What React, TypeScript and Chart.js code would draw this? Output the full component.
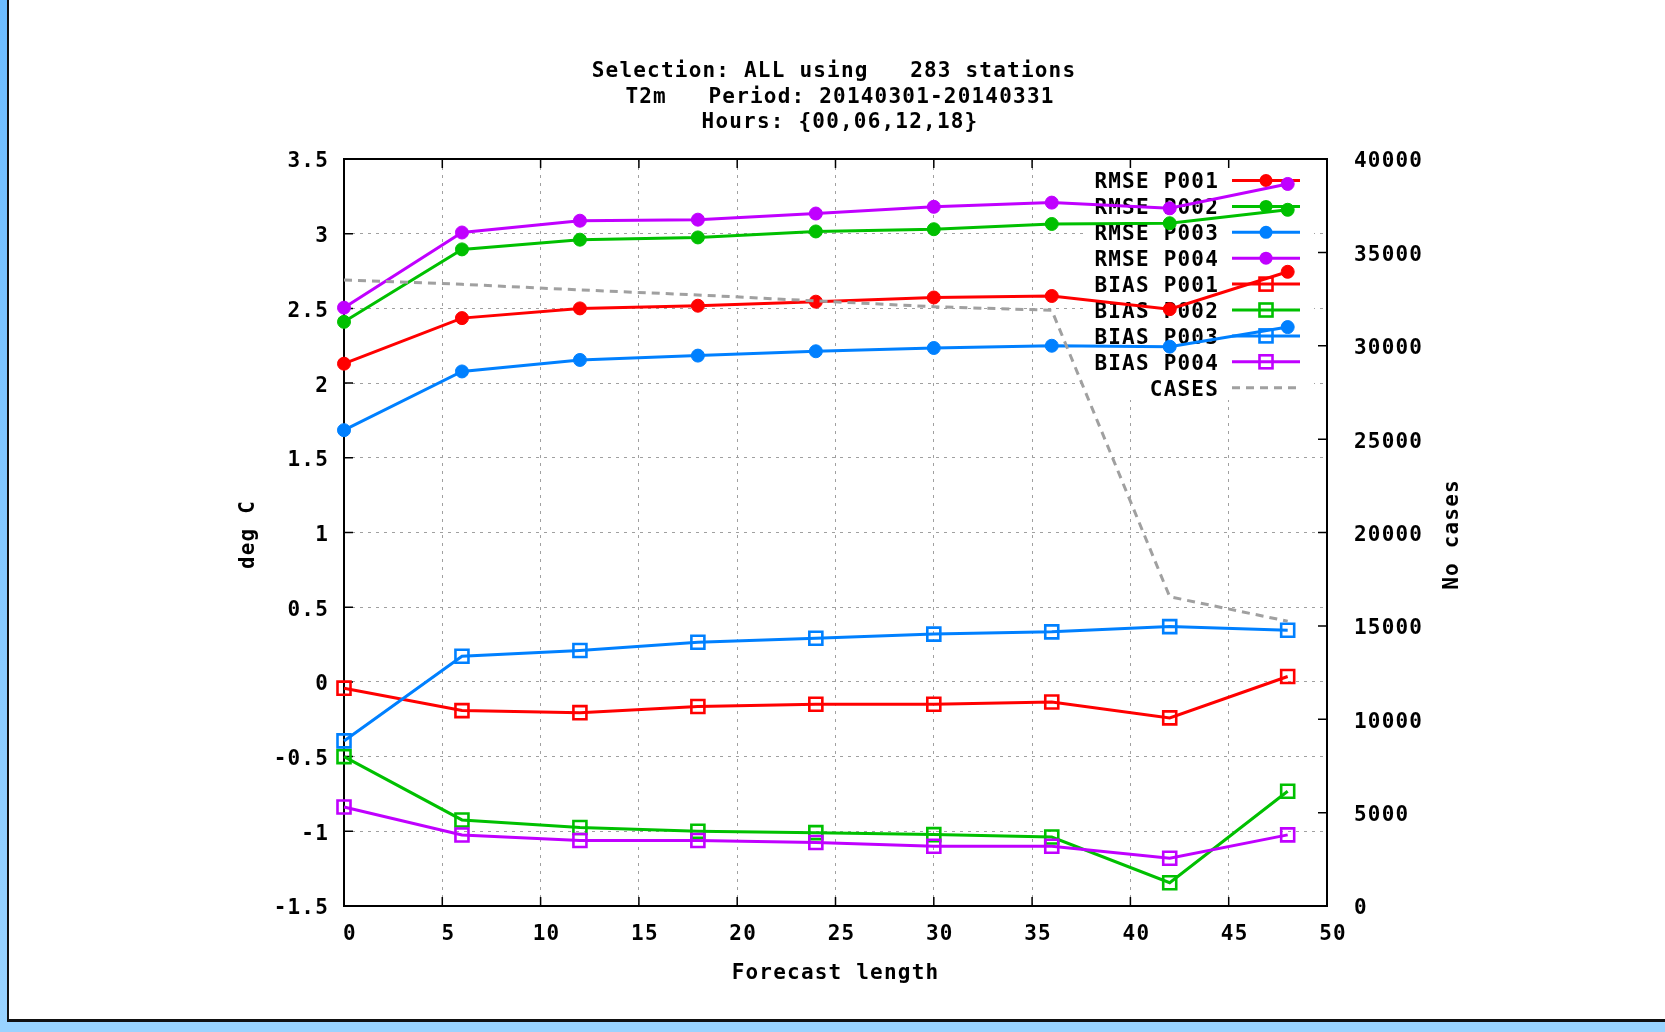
import React, { useEffect, useRef } from 'react';
import { Chart, registerables } from 'chart.js';

Chart.register(...registerables);

const W = 1665;
const H = 1032;

// ---------- data ----------
const forecastLength = [0, 6, 12, 18, 24, 30, 36, 42, 48];

const rmseP001 = [2.13, 2.435, 2.50, 2.518, 2.545, 2.573, 2.583, 2.495, 2.745];
const rmseP002 = [2.41, 2.895, 2.96, 2.975, 3.015, 3.03, 3.065, 3.07, 3.16];
const rmseP003 = [1.685, 2.078, 2.155, 2.184, 2.213, 2.235, 2.25, 2.244, 2.375];
const rmseP004 = [2.505, 3.008, 3.087, 3.094, 3.135, 3.18, 3.208, 3.17, 3.333];

const biasP001 = [-0.042, -0.192, -0.206, -0.165, -0.15, -0.15, -0.135, -0.241, 0.036];
const biasP002 = [-0.5, -0.924, -0.975, -1.0, -1.009, -1.022, -1.038, -1.344, -0.732];
const biasP003 = [-0.395, 0.172, 0.21, 0.265, 0.292, 0.32, 0.335, 0.37, 0.346];
const biasP004 = [-0.837, -1.025, -1.062, -1.062, -1.075, -1.1, -1.1, -1.18, -1.024];

const cases = [33520, 33290, 32990, 32720, 32400, 32090, 31900, 16560, 15250];

const seriesLabels = [
  'RMSE P001', 'RMSE P002', 'RMSE P003', 'RMSE P004',
  'BIAS P001', 'BIAS P002', 'BIAS P003', 'BIAS P004', 'CASES',
];

const titleLines = [
  'Selection: ALL using   283 stations',
  'T2m   Period: 20140301-20140331',
  'Hours: {00,06,12,18}',
];
const xAxisTitle = 'Forecast length';
const yAxisTitle = 'deg C';
const y2AxisTitle = 'No cases';

// ---------- styles ----------
const RED = '#ff0000';
const GREEN = '#00c000';
const BLUE = '#0080ff';
const PURPLE = '#c000ff';
const GRAY = '#a0a0a0';
const FONT_FAMILY = '"DejaVu Sans Mono", "Liberation Mono", monospace';
const FONT_SIZE = 21;
const FONT = `bold ${FONT_SIZE}px ${FONT_FAMILY}`;
const LETTER_SPACING = '1.2px';

const toPoints = (vals: number[]) => forecastLength.map((x, i) => ({ x, y: vals[i] }));

function rmseDs(label: string, vals: number[], color: string, idx: number) {
  return {
    label,
    data: toPoints(vals),
    borderColor: color,
    backgroundColor: color,
    borderWidth: 3,
    pointStyle: 'circle',
    pointRadius: 6.5,
    pointBackgroundColor: color,
    pointBorderColor: color,
    pointBorderWidth: 1,
    yAxisID: 'y',
    clip: false,
    order: 20 - idx,
  };
}

function biasDs(label: string, vals: number[], color: string, idx: number) {
  return {
    label,
    data: toPoints(vals),
    borderColor: color,
    backgroundColor: 'rgba(0,0,0,0)',
    borderWidth: 3,
    pointStyle: 'rect',
    pointRadius: 9.2,
    pointBackgroundColor: 'rgba(0,0,0,0)',
    pointBorderColor: color,
    pointBorderWidth: 2.6,
    yAxisID: 'y',
    clip: false,
    order: 20 - idx,
  };
}

const decorPlugin = {
  id: 'gnuplotDecor',
  beforeDraw(chart: any) {
    chart.ctx.letterSpacing = LETTER_SPACING;
  },
  beforeDatasetsDraw(chart: any) {
    const { ctx, chartArea: a, scales } = chart;
    ctx.save();
    ctx.letterSpacing = LETTER_SPACING;

    // key area has no grid
    ctx.fillStyle = '#ffffff';
    ctx.fillRect(a.right - 242, a.top + 1, 229, 240);

    // frame
    ctx.setLineDash([]);
    ctx.strokeStyle = '#000000';
    ctx.lineWidth = 2;
    ctx.strokeRect(a.left, a.top, a.right - a.left, a.bottom - a.top);

    // inward ticks
    const T = 9;
    ctx.lineWidth = 1.5;
    ctx.beginPath();
    for (const t of scales.x.ticks) {
      const px = scales.x.getPixelForValue(t.value);
      ctx.moveTo(px, a.bottom); ctx.lineTo(px, a.bottom - T);
      ctx.moveTo(px, a.top); ctx.lineTo(px, a.top + T);
    }
    for (const t of scales.y.ticks) {
      const py = scales.y.getPixelForValue(t.value);
      ctx.moveTo(a.left, py); ctx.lineTo(a.left + T, py);
    }
    for (const t of scales.y2.ticks) {
      const py = scales.y2.getPixelForValue(t.value);
      ctx.moveTo(a.right, py); ctx.lineTo(a.right - T, py);
    }
    ctx.stroke();

    // key
    const textRight = a.right - 108;
    const sx0 = a.right - 95;
    const sx1 = a.right - 27;
    const smid = (sx0 + sx1) / 2;
    chart.data.datasets.forEach((ds: any, i: number) => {
      const yy = a.top + 21.5 + i * 25.9;
      ctx.font = FONT;
      ctx.fillStyle = '#000000';
      ctx.textAlign = 'right';
      ctx.textBaseline = 'middle';
      ctx.fillText(ds.label, textRight, yy + 2.5);
      ctx.strokeStyle = ds.borderColor;
      ctx.lineWidth = ds.borderWidth;
      ctx.setLineDash(ds.borderDash || []);
      ctx.beginPath();
      ctx.moveTo(sx0, yy); ctx.lineTo(sx1, yy);
      ctx.stroke();
      ctx.setLineDash([]);
      if (ds.pointRadius > 0) {
        if (ds.pointStyle === 'circle') {
          ctx.fillStyle = ds.borderColor;
          ctx.beginPath();
          ctx.arc(smid, yy, ds.pointRadius, 0, Math.PI * 2);
          ctx.fill();
        } else {
          const s = ds.pointRadius * Math.SQRT1_2;
          ctx.lineWidth = ds.pointBorderWidth;
          ctx.strokeRect(smid - s, yy - s, 2 * s, 2 * s);
        }
      }
    });
    ctx.restore();
  },
  afterDraw(chart: any) {
    const { ctx, chartArea: a } = chart;
    ctx.save();
    ctx.letterSpacing = LETTER_SPACING;
    ctx.font = FONT;
    ctx.fillStyle = '#000000';
    ctx.textAlign = 'center';
    ctx.textBaseline = 'middle';
    const titleX = [834, 840, 840];
    const titleY = [71.5, 98, 123];
    titleLines.forEach((t, i) => ctx.fillText(t, titleX[i], titleY[i]));
    ctx.fillText(xAxisTitle, (a.left + a.right) / 2, 973.5);
    const midY = (a.top + a.bottom) / 2 + 2;
    ctx.save();
    ctx.translate(249, midY);
    ctx.rotate(-Math.PI / 2);
    ctx.fillText(yAxisTitle, 0, 0);
    ctx.restore();
    ctx.save();
    ctx.translate(1453, midY);
    ctx.rotate(-Math.PI / 2);
    ctx.fillText(y2AxisTitle, 0, 0);
    ctx.restore();
    ctx.restore();
    ctx.letterSpacing = '0px';
  },
};

export default function App() {
  const canvasRef = useRef<HTMLCanvasElement | null>(null);

  useEffect(() => {
    if (!canvasRef.current) return;
    const tickFont = { family: FONT_FAMILY, size: FONT_SIZE, weight: 'bold' as const };
    const chart = new Chart(canvasRef.current, {
      type: 'line',
      data: {
        datasets: [
          rmseDs(seriesLabels[0], rmseP001, RED, 0),
          rmseDs(seriesLabels[1], rmseP002, GREEN, 1),
          rmseDs(seriesLabels[2], rmseP003, BLUE, 2),
          rmseDs(seriesLabels[3], rmseP004, PURPLE, 3),
          biasDs(seriesLabels[4], biasP001, RED, 4),
          biasDs(seriesLabels[5], biasP002, GREEN, 5),
          biasDs(seriesLabels[6], biasP003, BLUE, 6),
          biasDs(seriesLabels[7], biasP004, PURPLE, 7),
          {
            label: seriesLabels[8],
            data: toPoints(cases),
            borderColor: GRAY,
            backgroundColor: GRAY,
            borderWidth: 3,
            borderDash: [8, 6],
            pointRadius: 0,
            yAxisID: 'y2',
            clip: false,
            order: 20 - 8,
          },
        ] as any,
      },
      options: {
        responsive: false,
        maintainAspectRatio: false,
        animation: false,
        devicePixelRatio: 1,
        layout: { padding: { top: 159, left: 0, right: 0, bottom: 0 } },
        plugins: {
          legend: { display: false },
          title: { display: false },
          tooltip: { enabled: false },
        },
        elements: { line: { tension: 0 } },
        scales: {
          x: {
            type: 'linear',
            position: 'bottom',
            min: 0,
            max: 50,
            ticks: {
              stepSize: 5,
              autoSkip: false,
              maxRotation: 0,
              padding: 16,
              labelOffset: 6,
              color: '#000000',
              font: tickFont,
              callback: (v: any) => String(v),
            },
            grid: { display: true, color: GRAY, lineWidth: 1, drawTicks: false },
            border: { display: false, dash: [3, 5] },
            afterFit: (s: any) => { s.height = H - 906; },
          },
          y: {
            type: 'linear',
            position: 'left',
            min: -1.5,
            max: 3.5,
            ticks: {
              stepSize: 0.5,
              padding: 15,
              labelOffset: 3,
              color: '#000000',
              font: tickFont,
              callback: (v: any) => String(Math.round(Number(v) * 10) / 10),
            },
            grid: { display: true, color: GRAY, lineWidth: 1, drawTicks: false },
            border: { display: false, dash: [3, 5] },
            afterFit: (s: any) => { s.width = 344; },
          },
          y2: {
            type: 'linear',
            position: 'right',
            min: 0,
            max: 40000,
            ticks: {
              stepSize: 5000,
              padding: 27,
              labelOffset: 3,
              color: '#000000',
              font: tickFont,
              callback: (v: any) => String(v),
            },
            grid: { display: false, drawTicks: false },
            border: { display: false },
            afterFit: (s: any) => { s.width = W - 1327; },
          },
        },
      } as any,
      plugins: [decorPlugin as any],
    });
    return () => chart.destroy();
  }, []);

  return (
    <div style={{ position: 'fixed', left: 0, top: 0, width: W, height: H, background: '#ffffff', overflow: 'hidden' }}>
      <canvas ref={canvasRef} width={W} height={H} style={{ position: 'absolute', left: 0, top: 0, width: W, height: H }} />
      <div style={{ position: 'absolute', left: 0, top: 0, width: 7, height: H, background: 'linear-gradient(#6cbcff, #99d3ff)' }} />
      <div style={{ position: 'absolute', left: 7, top: 0, width: 2, height: 1022, background: '#111111' }} />
      <div style={{ position: 'absolute', left: 7, top: 1019, width: W, height: 3, background: '#111111' }} />
      <div style={{ position: 'absolute', left: 0, top: 1022, width: W, height: 10, background: '#99d3ff' }} />
    </div>
  );
}
